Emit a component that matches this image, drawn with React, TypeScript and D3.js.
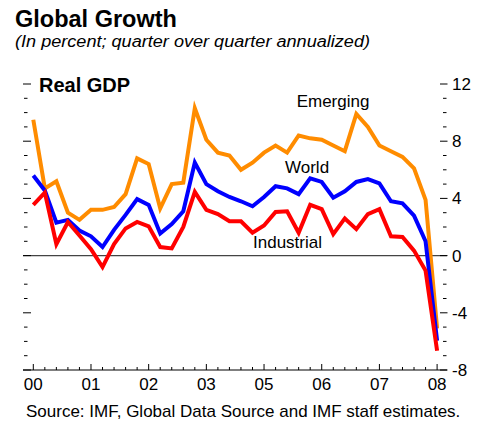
import React from "react";
import * as d3 from "d3";

const emerging = [9.5, 4.7, 5.2, 3.0, 2.5, 3.2, 3.2, 3.4, 4.3, 6.8, 6.4, 3.3, 5.0, 5.1, 10.3, 8.1, 7.2, 7.0, 6.0, 6.5, 7.2, 7.7, 7.2, 8.4, 8.2, 8.1, 7.7, 7.3, 9.9, 9.0, 7.7, 7.3, 6.9, 6.1, 3.9, -5.1];
const world = [5.6, 4.55, 2.3, 2.5, 1.75, 1.35, 0.6, 1.8, 2.85, 3.95, 3.55, 1.55, 2.2, 3.1, 6.5, 5.0, 4.5, 4.1, 3.8, 3.45, 4.1, 4.85, 4.7, 4.3, 5.4, 5.15, 4.05, 4.5, 5.15, 5.35, 5.05, 3.8, 3.65, 2.8, 1.0, -5.95];
const industrial = [3.55, 4.4, 0.8, 2.35, 1.4, 0.45, -0.8, 0.8, 1.9, 2.35, 2.05, 0.6, 0.5, 2.0, 4.45, 3.2, 2.9, 2.4, 2.4, 1.6, 2.1, 3.05, 3.1, 1.6, 3.55, 3.25, 1.5, 2.6, 1.85, 2.9, 3.25, 1.35, 1.3, 0.35, -1.05, -6.65];
const xTickLabels = ["00", "01", "02", "03", "05", "06", "07", "08"];
const yTickLabels = [12, 8, 4, 0, -4, -8];

const FONT = "'Liberation Sans', Arial, Helvetica, sans-serif";

export default function App() {
  const n = emerging.length;
  const x = d3.scaleLinear().domain([0, n - 1]).range([33.3, 437.1]);
  const y = d3.scaleLinear().domain([-8, 12]).range([370, 84]);
  const line = d3
    .line<number>()
    .x((_, i) => x(i))
    .y((d) => y(d));

  const yMinor = d3.range(-8, 13, 1);
  const xMinor = d3.range(0, n, 1);

  const series = [
    { name: "Emerging", data: emerging, color: "#FF8C00" },
    { name: "World", data: world, color: "#0000FF" },
    { name: "Industrial", data: industrial, color: "#FF0000" },
  ];

  return (
    <svg
      width={478}
      height={421}
      style={{ position: "absolute", left: 0, top: 0, background: "#fff" }}
      fontFamily={FONT}
    >
      <text x={15} y={27} fontSize={23.5} fontWeight="bold" fill="#000">
        Global Growth
      </text>
      <text
        x={15}
        y={47}
        fontSize={16}
        fontStyle="italic"
        fill="#000"
        textLength={355}
        lengthAdjust="spacingAndGlyphs"
      >
        (In percent; quarter over quarter annualized)
      </text>
      <text x={39} y={92} fontSize={20} fontWeight="bold" fill="#000">
        Real GDP
      </text>

      {/* zero line */}
      <line x1={23} x2={447} y1={y(0)} y2={y(0)} stroke="#444" strokeWidth={1.2} />

      {/* y ticks left and right */}
      {yMinor.map((v) => {
        const major = v % 4 === 0;
        return (
          <g key={"yt" + v}>
            <line x1={major ? 23 : 24} x2={major ? 31 : 27.5} y1={y(v)} y2={y(v)} stroke="#000" strokeWidth={1} />
            <line x1={major ? 440 : 443} x2={major ? 447.5 : 446.5} y1={y(v)} y2={y(v)} stroke="#000" strokeWidth={1} />
          </g>
        );
      })}
      {yTickLabels.map((v) => (
        <text key={"yl" + v} x={452} y={y(v) + 6} fontSize={17} fill="#000">
          {v}
        </text>
      ))}

      {/* x axis */}
      <line x1={23} x2={447} y1={y(-8)} y2={y(-8)} stroke="#000" strokeWidth={1.2} />
      {xMinor.map((i) => {
        const major = i % 5 === 0;
        return (
          <line
            key={"xt" + i}
            x1={x(i)}
            x2={x(i)}
            y1={y(-8)}
            y2={y(-8) - (major ? 6 : 3)}
            stroke="#000"
            strokeWidth={1}
          />
        );
      })}
      {xTickLabels.map((lab, k) => (
        <text key={"xl" + lab} x={x(k * 5)} y={390} fontSize={17} textAnchor="middle" fill="#000">
          {lab}
        </text>
      ))}

      {/* series */}
      {series.map((s) => (
        <path
          key={s.name}
          d={line(s.data) || ""}
          fill="none"
          stroke={s.color}
          strokeWidth={4}
          strokeLinejoin="miter"
          strokeMiterlimit={4}
        />
      ))}

      {/* series labels */}
      <text x={x(23.0) - 2} y={107} fontSize={17} fill="#000">Emerging</text>
      <text x={285} y={173} fontSize={17} fill="#000">World</text>
      <text x={253} y={248} fontSize={17} fill="#000">Industrial</text>

      <text x={26} y={417} fontSize={17} fill="#000">
        Source: IMF, Global Data Source and IMF staff estimates.
      </text>
    </svg>
  );
}
